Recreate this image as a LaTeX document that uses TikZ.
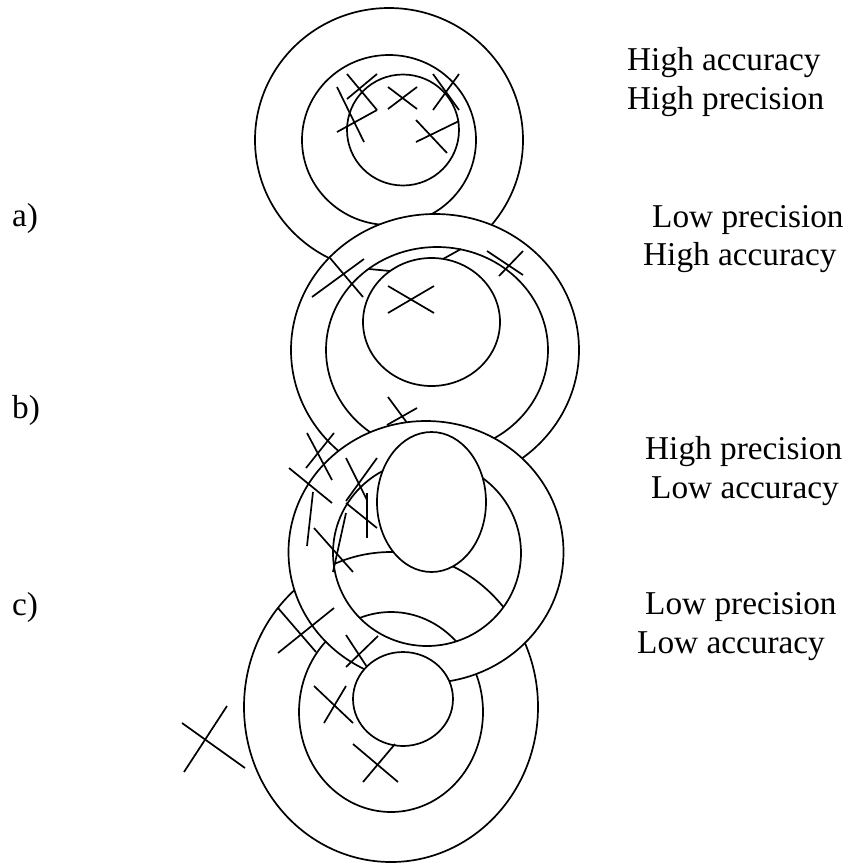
\documentclass[tikz,border=0pt]{standalone}
\usepackage{fontspec}
\setmainfont{Liberation Serif}
\usepackage{tikz}
\tikzset{
  ringline/.style={line width=1.7pt, draw=black},
  crossline/.style={line width=1.7pt, line cap=butt},
  caption/.style={anchor=base west, inner sep=0pt,
    font=\fontsize{33.3}{40}\selectfont},
}

\begin{document}
\begin{tikzpicture}[x=1pt, y=-1pt]
  \useasboundingbox (0,0) rectangle (848,865);

  % Target a
  \draw[ringline] (389,140) ellipse [x radius=134, y radius=132];
  \draw[ringline] (389,140) ellipse [x radius=87, y radius=85];
  \draw[ringline] (403,130) ellipse [x radius=56, y radius=55.5];
  \foreach \xa/\ya/\xb/\yb in {337/87/364/142, 337/132/377/110,
      347/74/377/110, 347/99/377/74, 388/87/417/109, 388/109/417/87,
      433/74/459/110, 433/110/459/74, 416/120/447/153, 416/142/459/121}
    \draw[crossline] (\xa,\ya) -- (\xb,\yb);

  % Target b
  \filldraw[ringline, fill=white] (435,350) ellipse [x radius=144, y radius=136];
  \draw[ringline] (437,350) ellipse [x radius=111, y radius=103];
  \draw[ringline] (431.5,322) ellipse [x radius=68.5, y radius=64];
  \draw[crossline] (369,269) -- (390,271);
  \draw[crossline] (443,259) -- (461,249);
  \foreach \xa/\ya/\xb/\yb in {330/258/363/297, 312/297/364/259,
      388/286/434/313, 388/313/434/286, 487/251/523/275, 499/276/523/251,
      388/397/416/435, 387/425/417/408}
    \draw[crossline] (\xa,\ya) -- (\xb,\yb);

  % Target c covers b
  \fill[white] (426,552) ellipse [x radius=137.5, y radius=131];

  % Target d, outer rings (partly hidden by c)
  \draw[ringline] (391,707) ellipse [x radius=147, y radius=155];
  \draw[ringline] (391,712) ellipse [x radius=92, y radius=100];

  % Target c
  \fill[white, even odd rule] (426,552) ellipse [x radius=137.5, y radius=131]
    (427,553) ellipse [x radius=94, y radius=93];
  \draw[ringline] (426,552) ellipse [x radius=137.5, y radius=131];
  \draw[ringline] (427,553) ellipse [x radius=94, y radius=93];
  \filldraw[ringline, fill=white] (431.5,502) ellipse [x radius=54.5, y radius=70];
  \foreach \xa/\ya/\xb/\yb in {307/433/332/480, 306/468/334/433,
      289/468/332/503, 307/546/313/492, 346/458/367/500, 346/501/377/458,
      346/503/377/528, 367/493/367/538, 346/513/333/572, 314/528/353/572}
    \draw[crossline] (\xa,\ya) -- (\xb,\yb);

  % Target d
  \filldraw[ringline, fill=white] (403,699) ellipse [x radius=50, y radius=47];
  \foreach \xa/\ya/\xb/\yb in {278/608/316/652, 278/653/334/608,
      346/635/367/667, 346/667/378/636, 314/686/353/723, 324/723/346/686,
      353/744/398/782, 363/782/395/744, 182/723/245/768, 184/772/227/706}
    \draw[crossline] (\xa,\ya) -- (\xb,\yb);

  % Labels
  \node[caption] (capAone) at (627,70) {High accuracy};
  \node[caption] (capAtwo) at (627,109) {High precision};
  \node[caption] (capBone) at (652,227) {Low precision};
  \node[caption] (capBtwo) at (643,265) {High accuracy};
  \node[caption] (capCone) at (645,459) {High precision};
  \node[caption] (capCtwo) at (651,498) {Low accuracy};
  \node[caption] (capDone) at (645,614) {Low precision};
  \node[caption] (capDtwo) at (637,653) {Low accuracy};
  \node[caption] (tagA) at (12,226) {a)};
  \node[caption] (tagB) at (12,418) {b)};
  \node[caption] (tagC) at (12,615) {c)};
\end{tikzpicture}
\end{document}
